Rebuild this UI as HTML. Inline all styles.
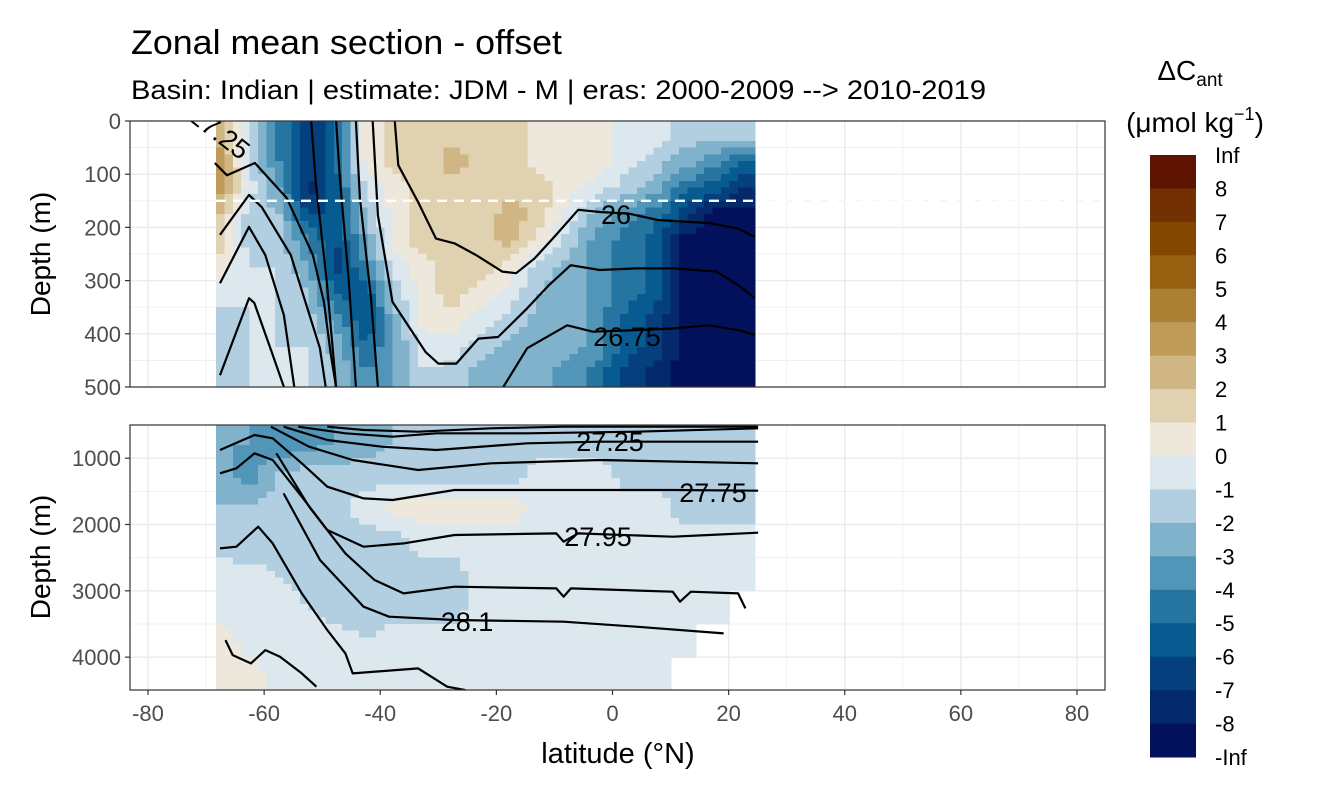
<!DOCTYPE html>
<html><head><meta charset="utf-8"><style>
body{margin:0;background:#fff;}
svg{display:block;font-family:"Liberation Sans",sans-serif;}
</style></head><body>
<svg id="chart" width="1344" height="806" viewBox="0 0 1344 806">
<text x="131" y="54" font-size="34" textLength="431" lengthAdjust="spacingAndGlyphs" fill="#000">Zonal mean section - offset</text>
<text x="131" y="99" font-size="27" textLength="855" lengthAdjust="spacingAndGlyphs" fill="#000">Basin: Indian | estimate: JDM - M | eras: 2000-2009 --&gt; 2010-2019</text>
<defs>
<clipPath id="clipTop"><rect x="130" y="121" width="975" height="266"/></clipPath>
<clipPath id="clipBot"><rect x="130" y="425" width="975" height="265"/></clipPath>
</defs>
<g id="topPanel"></g>
<g id="botPanel"></g>
<text transform="translate(50,254) rotate(-90)" text-anchor="middle" font-size="28">Depth (m)</text>
<text transform="translate(50,557) rotate(-90)" text-anchor="middle" font-size="28">Depth (m)</text>
<text x="618" y="763" text-anchor="middle" font-size="29">latitude (°N)</text>
<g>
<text x="1190" y="80" text-anchor="middle" font-size="28">ΔC<tspan font-size="19" dy="6">ant</tspan></text>
<text x="1195" y="132" text-anchor="middle" font-size="28">(μmol kg<tspan font-size="18" dy="-12">−1</tspan><tspan dy="12">)</tspan></text>
<g id="legendBar"></g>
</g>
</svg>
<script>
// ---- data ----
const lats = [-67.5,-62.5,-57.5,-52.5,-47.5,-42.5,-37.5,-32.5,-27.5,-22.5,-17.5,-12.5,-7.5,-2.5,2.5,7.5,12.5,17.5,22.5];
const topDepths = [25,75,125,175,225,275,325,375,425,475];
const botDepths = [750,1250,1750,2250,2750,3250,3750,4250];
const topValues = [
[2.5,-1,-4,-7,-5,0.5,1.5,1.5,1.5,1.5,1.5,0.5,0.5,0.5,-0.5,-0.5,-1.5,-1.5,-1.5],
[3.5,-1,-4,-7,-5,0.5,1.5,1.5,2.5,1.5,1.5,0.5,0.5,0.5,-0.5,-1.5,-2.5,-3.5,-5],
[3.5,-0.5,-3,-7.5,-5.5,-1,0.5,1.5,1.5,1.5,1.5,1.5,0.5,-0.5,-1.5,-2.5,-4.5,-5.5,-7],
[2,-1.5,-2,-6,-6,-2,0.5,1.5,1.5,1.5,2.5,1.5,-0.5,-2.5,-3.5,-4.5,-6.5,-8.5,-8.5],
[1.5,-1.5,-1.5,-4,-6,-3,0.5,1.5,1.5,1.5,2.5,0.5,-1.5,-3.5,-4.5,-5.5,-8.5,-8.5,-8.5],
[0.5,-1,-1,-3,-6.5,-4,-0.5,0.5,1.5,1.5,0.5,-1.5,-2.5,-3.5,-4.5,-5.5,-8.5,-8.5,-8.5],
[-0.5,-1,-1,-2,-5,-6,-1.5,0.5,1.5,0.5,-0.5,-2,-2.5,-3.5,-4.5,-5.5,-8.5,-8.5,-8.5],
[-1.5,-1,-1,-1.5,-3.5,-6,-2.5,0.5,0.5,-0.5,-1.5,-2.5,-2.5,-3.5,-5.5,-6.5,-8.5,-8.5,-8.5],
[-1,-1,-1,-1,-2.5,-5,-3,-0.5,-0.5,-1.5,-2.5,-2.5,-2.5,-3.5,-5.5,-6.5,-8.5,-8.5,-8.5],
[-1.5,-1,-1,-1,-2,-4,-3,-1,-1.5,-2.5,-2.5,-2.5,-3.5,-4.5,-6.5,-7.5,-8.5,-8.5,-8.5]];
const botValues = [
[-3,-3,-4,-3.5,-3,-2.5,-2,-2,-2,-2,-1.5,-1.5,-1.5,-1.5,-1.5,-2,-2,-2,-2],
[-2.5,-3.5,-2,-1.5,-1.5,-1.5,-1.5,-1.5,-1.5,-1.5,-1.5,-0.5,-0.5,-0.5,-1.5,-1.5,-1.5,-1.5,-1.5],
[-2,-2,-1.5,-1,-1.5,-0.5,0.5,0.5,0.5,0.5,0.5,-0.5,-0.5,-0.5,-0.5,-0.5,-1.5,-1.5,-1.5],
[-1.5,-2,-2,-1.5,-1.5,-1.5,-1.5,-0.5,-0.5,-0.5,-0.5,-0.5,-0.5,-0.5,-0.5,-0.5,-0.5,-0.5,-0.5],
[-0.5,-0.5,-1,-1.5,-1.5,-1.5,-1.5,-1.5,-1.5,-0.5,-0.5,-0.5,-0.5,-0.5,-0.5,-0.5,-0.5,-0.5,-0.5],
[-0.5,-0.5,-0.5,-1,-1.5,-1.5,-1.5,-1.5,-1.5,-0.5,-0.5,-0.5,-0.5,-0.5,-0.5,-0.5,-0.5,-0.5,null],
[0.5,-0.5,-0.5,-0.5,-0.5,-1,-0.5,-0.5,-0.5,-0.5,-0.5,-0.5,-0.5,-0.5,-0.5,-0.5,-0.5,null,null],
[0.5,0.5,-0.5,-0.5,-0.5,-0.5,-0.5,-0.5,-0.5,-0.5,-0.5,-0.5,-0.5,-0.5,-0.5,-0.5,null,null,null]];
const legendLabels = ["Inf","8","7","6","5","4","3","2","1","0","-1","-2","-3","-4","-5","-6","-7","-8","-Inf"];
const xTicks = [-80,-60,-40,-20,0,20,40,60,80];
const topTicks = [0,100,200,300,400,500];
const botTicks = [1000,2000,3000,4000];
const topContours = [
 [[-68.5,-66.4,-61.6,-56.1,-51.6,-49.7,-48.5,-47.6],[79,102,79,145,252,340,440,500]],
 [[-67.6,-62.6,-60.4,-55.4,-52.9,-50.4,-49.4],[214,139,162,252,340,427,500]],
 [[-67.6,-62.6,-59.8,-56.6,-54.8],[305,199,252,365,500]],
 [[-67.6,-62.6,-61.7,-58.5,-56.6],[478,333,342,440,500]],
 [[-51.9,-51.1,-49.2,-47.6],[0,115,303,500]],
 [[-47.6,-46.9,-45.4,-44.2],[0,115,303,500]],
 [[-44.2,-43.5,-41.6,-40.4],[0,145,333,500]],
 [[-37.5,-36.9,-33.5,-30.4,-27.2,-23.5,-19,-16.6,-13.4,-9.7,-5.9,-2.2,2.8,7.8,16.6,21.6,24.5],[1,83,152,221,230,252,283,286,258,214,167,171,174,186,192,202,218]],
 [[-41.3,-40.4,-37.9,-32.2,-30,-26.9,-23.1,-19.7,-14.7,-10.9,-7.2,-2.2,4.1,10.4,17.9,21.6,24.5],[1,177,340,434,456,456,409,406,352,308,271,280,277,277,283,308,333]],
 [[-18.8,-14.7,-7.8,-3.4,4.1,10.4,16.6,21.6,24.5],[500,427,384,396,393,390,384,393,402]]
];
const botZX = [
 [350,450,600,800,1000,1535],[270,400,530,650,900,1200,1535],[230,350,500,650,900,1100,1535],[195,300,420,600,800,1100,1535],
 [55,150,200,280,350,450,530,700,1000,1300,1535],
 [55,100,150,200,280,350,450,560,700,980,1000,1040,1300,1400,1535],
 [210,300,400,480,560,700,980,1000,1020,1300,1320,1350,1480,1500],
 [230,330,450,520,700,1000,1200,1440],
 [55,100,160,200,280,350,400,420,600,680,730],
 [70,90,140,180,220,280,320]
];
const botZY = [
 [20,30,35,25,20,20],[20,40,50,40,40,35,25],[20,60,80,90,70,65,65],[20,80,120,150,130,120,130],
 [90,45,55,130,200,235,240,210,210,210,212],
 [160,145,100,120,230,330,380,370,345,340,365,340,350,345,338],
 [100,260,400,480,520,500,505,530,505,515,545,515,520,565],
 [220,420,560,590,600,605,620,640],
 [385,380,320,370,520,630,700,760,745,800,810],
 [660,705,730,690,710,760,800]
];
const colors = ["#03115c","#042a6b","#053f7d","#085b91","#2674a0","#5195b8","#80b2cb","#b1cfe0","#dde8ee","#ede7dc","#e0d1b0","#cfb684","#bf9b5a","#ab7f34","#976011","#844702","#723003","#5e1400"];

// ---- scales ----
const NS = "http://www.w3.org/2000/svg";
const X0=130, X1=1105;
const xs = lat => 612.5 + lat*5.806;
const ysTop = d => 121 + d*0.532;
const ysBot = d => 425 + (d-500)*0.06633;
const colorFor = v => colors[Math.max(0,Math.min(17,Math.floor(v)+9))];
function mk(tag, attrs, parent){const e=document.createElementNS(NS,tag);for(const k in attrs)e.setAttribute(k,attrs[k]);parent.appendChild(e);return e;}

function sample(values, depths, la, d){
  const dStep=depths[1]-depths[0];
  let fi=(la-lats[0])/5, fr=(d-depths[0])/dStep;
  const ni=Math.round(Math.max(0,Math.min(lats.length-1,fi)));
  const nr=Math.round(Math.max(0,Math.min(depths.length-1,fr)));
  if(values[nr][ni]===null) return null;
  fi=Math.max(0,Math.min(lats.length-1,fi)); fr=Math.max(0,Math.min(depths.length-1,fr));
  const i0=Math.floor(fi), r0=Math.floor(fr);
  const i1=Math.min(i0+1,lats.length-1), r1=Math.min(r0+1,depths.length-1);
  const a=fi-i0, b=fr-r0;
  const g=(r,i)=>{const v=values[r][i];return v===null?values[nr][ni]:v;};
  return (1-a)*(1-b)*g(r0,i0)+a*(1-b)*g(r0,i1)+(1-a)*b*g(r1,i0)+a*b*g(r1,i1);
}

function panel(g, y0, y1, ys, depths, values, ticks, minorTicks, clipId, dMin, dMax){
  mk('rect',{x:X0,y:y0,width:X1-X0,height:y1-y0,fill:'#fff'},g);
  const grid = mk('g',{},g);
  for(let v=-90; v<=90; v+=10){
    const x=xs(v); if(x<X0||x>X1) continue;
    const l=mk('line',{x1:x,x2:x,y1:y0,y2:y1,stroke:'#ebebeb','stroke-width':(v%20===0)?1.4:0.7},grid);
    
    
  }
  ticks.concat(minorTicks).forEach((t,i)=>{
    const y=ys(t);
    const l=mk('line',{x1:X0,x2:X1,y1:y,y2:y,stroke:'#ebebeb','stroke-width':i<ticks.length?1.4:0.7},grid);
    
    
  });
  const cells = mk('g',{'clip-path':`url(#${clipId})`,'shape-rendering':'crispEdges'},g);
  const dStep=(dMax-dMin)/40, lStep=(24.5+68.3)/64;
  for(let r=0;r<40;r++){
    const da=dMin+r*dStep, db=da+dStep;
    for(let c=0;c<64;c++){
      const la=-68.3+c*lStep, lb=la+lStep;
      const v=sample(values,depths,(la+lb)/2,(da+db)/2);
      if(v===null) continue;
      const rc=mk('rect',{x:xs(la),y:ys(da),width:xs(lb)-xs(la)+0.7,height:ys(db)-ys(da)+0.7,fill:colorFor(v)},cells);
      
      
    }
  }
  return mk('g',{'clip-path':`url(#${clipId})`},g);
}
function line(parent, latsArr, depArr, ys){
  const pts = latsArr.map((la,i)=>xs(la).toFixed(1)+','+ys(depArr[i]).toFixed(1)).join(' ');
  const p=mk('polyline',{points:pts,fill:'none',stroke:'#000','stroke-width':2.2,'stroke-linejoin':'round'},parent);
  
  
}
function label(parent,x,y,txt,rot){
  const t=mk('text',{x:x,y:y,'font-size':27,'text-anchor':'middle',fill:'#000'},parent);
  if(rot) t.setAttribute('transform',`rotate(${rot},${x},${y})`);
  t.textContent=txt;
  
  
}

const topG = document.getElementById('topPanel');
const tc = panel(topG,121,387,ysTop,topDepths,topValues,topTicks,[50,150,250,350,450],'clipTop',0,500);
topContours.forEach(c=>line(tc,c[0],c[1],ysTop));
const dash=mk('line',{x1:xs(-68.3),x2:X1,y1:ysTop(150),y2:ysTop(150),stroke:'#fff','stroke-width':2.4,'stroke-dasharray':'10,7'},tc);


label(tc,214,140,'27.25',38);
label(tc,616,224,'26');
label(tc,627,346,'26.75');
mk('rect',{x:X0,y:121,width:X1-X0,height:266,fill:'none',stroke:'#333','stroke-width':1.2},topG);

const botG = document.getElementById('botPanel');
const bc = panel(botG,425,690,ysBot,botDepths,botValues,botTicks,[1500,2500,3500,4500],'clipBot',500,4500);
botZX.forEach((zx,i)=>{
  const la = zx.map(v=>((200+v*0.3636)-612.5)/5.806);
  const de = botZY[i].map(v=>500+((420+v/3)-425)*15.08);
  line(bc,la,de,ysBot);
});
label(bc,610,451,'27.25');
label(bc,713,502,'27.75');
label(bc,598,546,'27.95');
label(bc,467,631,'28.1');
mk('rect',{x:X0,y:425,width:X1-X0,height:265,fill:'none',stroke:'#333','stroke-width':1.2},botG);

const svg=document.getElementById('chart');
function ytick(y,txt){
  mk('line',{x1:X0-5,x2:X0,y1:y,y2:y,stroke:'#333','stroke-width':1.2},svg);
  const t=mk('text',{x:X0-9,y:y+8,'font-size':22,'text-anchor':'end',fill:'#4d4d4d'},svg);
  t.textContent=txt;
  
  
}
topTicks.forEach(t=>ytick(ysTop(t),String(t)));
botTicks.forEach(t=>ytick(ysBot(t),String(t)));
xTicks.forEach(v=>{
  const x=xs(v);
  mk('line',{x1:x,x2:x,y1:690,y2:695,stroke:'#333','stroke-width':1.2},svg);
  const t=mk('text',{x:x,y:721,'font-size':22,'text-anchor':'middle',fill:'#4d4d4d'},svg);
  t.textContent=String(v);
  
  
});

const lg=document.getElementById('legendBar');
const binH=(757-155)/18;
for(let i=0;i<18;i++){
  const r=mk('rect',{x:1150,y:155+i*binH,width:46,height:binH+0.5,fill:colors[17-i]},lg);
  
  
}
legendLabels.forEach((s,i)=>{
  const t=mk('text',{x:1215,y:155+i*binH+8,'font-size':22,fill:'#000'},lg);
  t.textContent=s;
  
  
});
</script>
</body></html>
